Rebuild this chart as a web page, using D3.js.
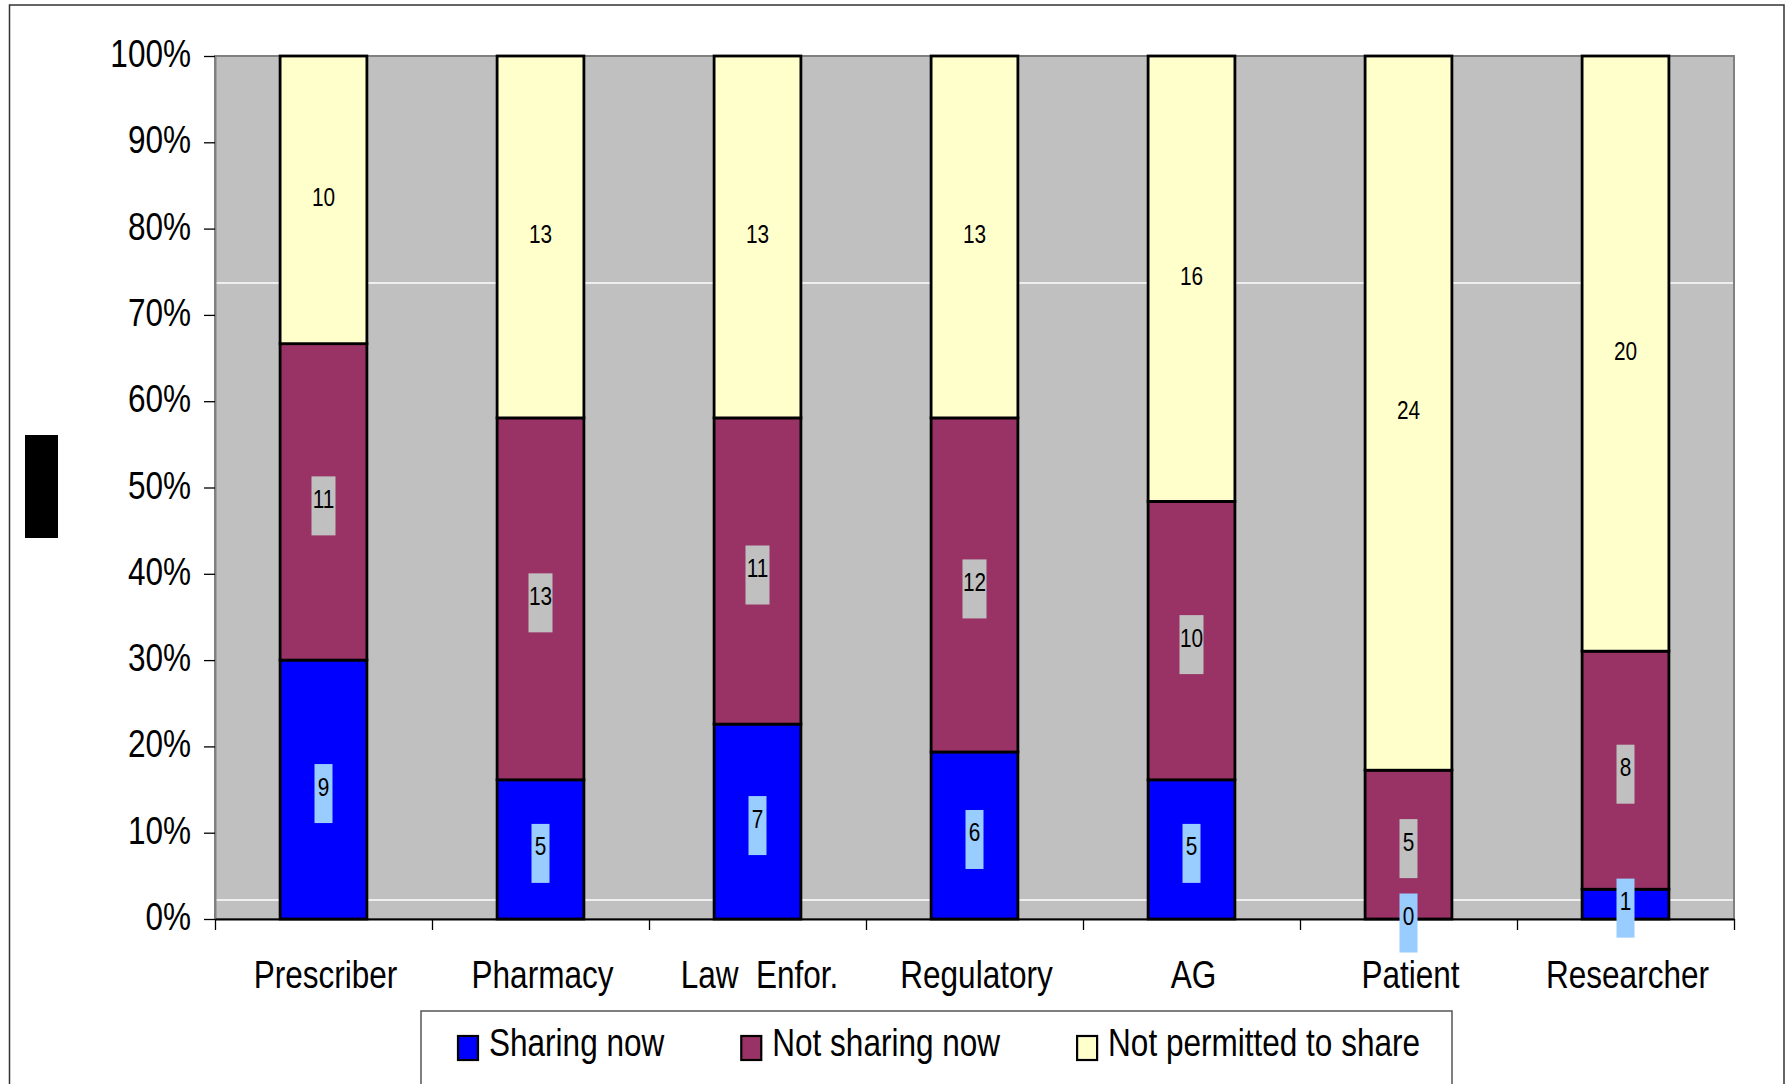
<!DOCTYPE html>
<html>
<head>
<meta charset="utf-8">
<script src="https://cdn.jsdelivr.net/npm/d3@7"></script>
<style>
  html, body { margin: 0; padding: 0; background: #fff; }
  svg { display: block; }
  text { font-family: "Liberation Sans", Arial, sans-serif; fill: #000; white-space: pre; }
</style>
</head>
<body>
<svg id="chart" width="1787" height="1084"></svg>
<script>
// ---- data ----
const categories = ["Prescriber", "Pharmacy", "Law  Enfor.", "Regulatory", "AG", "Patient", "Researcher"];
const seriesNames = ["Sharing now", "Not sharing now", "Not permitted to share"];
const sharingNow = [9, 5, 7, 6, 5, 0, 1];
const notSharingNow = [11, 13, 11, 12, 10, 5, 8];
const notPermitted = [10, 13, 13, 13, 16, 24, 20];
const yTickValues = [0, 0.1, 0.2, 0.3, 0.4, 0.5, 0.6, 0.7, 0.8, 0.9, 1.0];
const whiteLineValues = [0.737, 0.022];

// ---- styles ----
const colors = ["#0000ff", "#993366", "#ffffcc"];
const labelBoxColors = ["#99ccff", "#c0c0c0", null];
const sx = 0.83;

const rows = categories.map((c, i) => ({
  cat: c,
  [seriesNames[0]]: sharingNow[i],
  [seriesNames[1]]: notSharingNow[i],
  [seriesNames[2]]: notPermitted[i]
}));
const stacked = d3.stack().keys(seriesNames).offset(d3.stackOffsetExpand)(rows);

const svg = d3.select("#chart");
const pL = 215, pR = 1734, pT = 56, pB = 919;

const x = d3.scaleBand().domain(categories).range([pL, pR]).paddingInner(0).paddingOuter(0);
const xTickScale = d3.scaleLinear().domain([0, categories.length]).range([pL, pR]);
const y = d3.scaleLinear().domain([0, 1]).range([pB, pT]);
const barW = x.bandwidth() * 0.4;

// outer frame
svg.append("rect").attr("x", 9.5).attr("y", 5).attr("width", 1774.5).attr("height", 1200)
  .attr("fill", "#fff").attr("stroke", "#333").attr("stroke-width", 1.5);

// black box at left
svg.append("rect").attr("x", 25).attr("y", 435).attr("width", 33).attr("height", 103).attr("fill", "#000");

// plot area
svg.append("rect").attr("x", pL).attr("y", pT).attr("width", pR - pL).attr("height", pB - pT)
  .attr("fill", "#c0c0c0").attr("stroke", "#808080").attr("stroke-width", 2);

// white lines
svg.selectAll(".wl").data(whiteLineValues).join("line")
  .attr("x1", pL + 1).attr("x2", pR - 1)
  .attr("y1", d => y(d)).attr("y2", d => y(d))
  .attr("stroke", "#fff").attr("stroke-width", 1.5);

// bars
const layers = svg.selectAll(".layer").data(stacked).join("g")
  .attr("fill", (d, i) => colors[i]);
layers.selectAll("rect").data(d => d.map(v => ({ v, cat: v.data.cat }))).join("rect")
  .attr("x", d => x(d.cat) + (x.bandwidth() - barW) / 2)
  .attr("width", barW)
  .attr("y", d => y(d.v[1]))
  .attr("height", d => y(d.v[0]) - y(d.v[1]))
  .attr("stroke", "#000").attr("stroke-width", 2.8);

// y axis
const yAxis = svg.append("g").attr("transform", `translate(${pL},0)`)
  .call(d3.axisLeft(y).tickValues(yTickValues).tickFormat(d3.format(".0%")).tickSize(11).tickSizeOuter(0));
yAxis.select(".domain").attr("stroke", "#808080").attr("stroke-width", 2);
yAxis.selectAll(".tick line").attr("stroke", "#000").attr("stroke-width", 1.3);
yAxis.selectAll(".tick text")
  .attr("x", -24 / sx).attr("dy", 0).attr("y", 10.5)
  .attr("transform", `scale(${sx},1)`)
  .style("font-size", "38px").style("font-family", '"Liberation Sans", Arial, sans-serif')
  .attr("fill", "#000");

// x axis ticks at band boundaries
const xAxisTicks = svg.append("g").attr("transform", `translate(0,${pB})`)
  .call(d3.axisBottom(xTickScale).tickValues(d3.range(categories.length + 1)).tickFormat("").tickSize(11).tickSizeOuter(0));
xAxisTicks.select(".domain").attr("stroke", "#000").attr("stroke-width", 2);
xAxisTicks.selectAll(".tick line").attr("stroke", "#000").attr("stroke-width", 1.3);

// x axis labels
const xAxisLabels = svg.append("g").attr("transform", `translate(0,${pB})`)
  .call(d3.axisBottom(x).tickSize(0));
xAxisLabels.select(".domain").remove();
xAxisLabels.selectAll(".tick text")
  .attr("y", 69).attr("dy", 0)
  .attr("transform", `scale(${sx},1)`)
  .style("font-size", "38px").style("font-family", '"Liberation Sans", Arial, sans-serif')
  .attr("fill", "#000");
xAxisLabels.selectAll(".tick").each(function (d) {
  d3.select(this).attr("transform", `translate(${x(d) + x.bandwidth() / 2 + 2},0)`);
});

// data labels
const labelsG = svg.append("g");
stacked.forEach((layer, si) => {
  layer.forEach((v, ci) => {
    const cat = categories[ci];
    const cx = x(cat) + x.bandwidth() / 2;
    const yc = (y(v[0]) + y(v[1])) / 2;
    const val = v.data[seriesNames[si]];
    const txt = String(val);
    if (labelBoxColors[si]) {
      const w = 12 + 6 * txt.length;
      labelsG.append("rect")
        .attr("x", cx - w / 2).attr("y", yc + 4 - 29.5)
        .attr("width", w).attr("height", 59)
        .attr("fill", labelBoxColors[si]);
    }
    labelsG.append("text")
      .attr("transform", `translate(${cx},${yc + 6}) scale(0.8,1)`)
      .attr("text-anchor", "middle")
      .style("font-size", "26px")
      .text(txt);
  });
});

// legend
const legend = svg.append("g");
legend.append("rect").attr("x", 421).attr("y", 1011).attr("width", 1031).attr("height", 120)
  .attr("fill", "#fff").attr("stroke", "#555").attr("stroke-width", 1.5);
let lx = 458;
seriesNames.forEach((name, i) => {
  legend.append("rect").attr("x", lx).attr("y", 1036).attr("width", 20).attr("height", 24)
    .attr("fill", colors[i]).attr("stroke", "#000").attr("stroke-width", 2.2);
  const t = legend.append("text")
    .attr("transform", `translate(${lx + 31},1056) scale(${sx},1)`)
    .style("font-size", "38px")
    .text(name);
  const w = t.node().getComputedTextLength() * sx;
  lx = lx + 31 + w + 77;
});
</script>
</body>
</html>
